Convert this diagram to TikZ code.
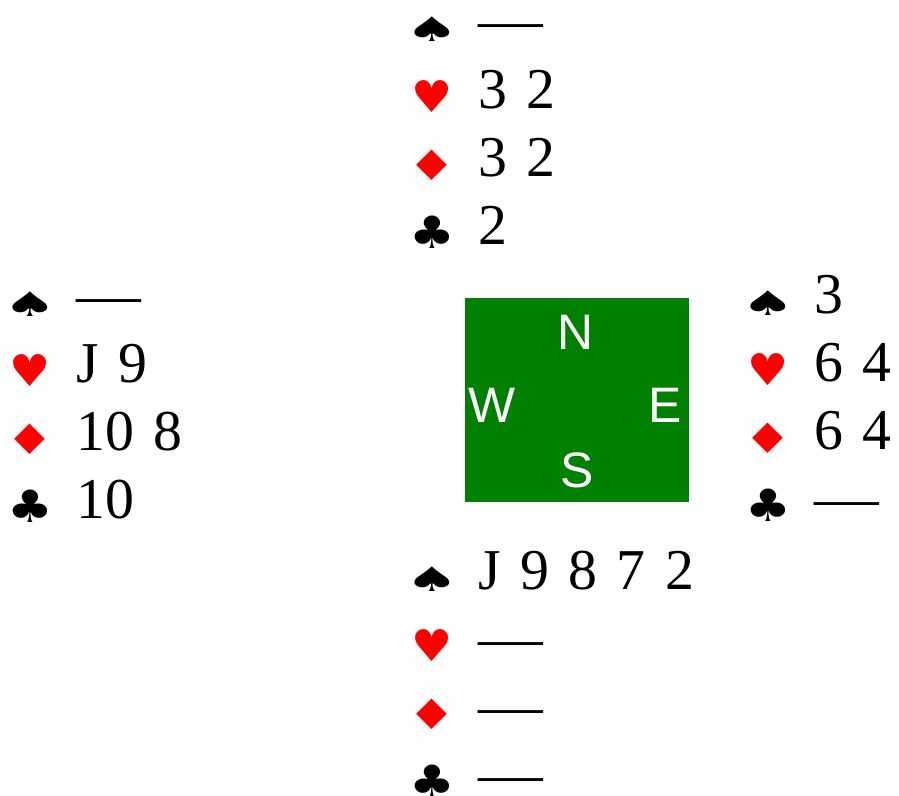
\documentclass[tikz,border=0pt]{standalone}
\usepackage{fontspec}
\setmainfont[WordSpace=1.35]{Liberation Serif}
\setsansfont{Liberation Sans}
\newfontfamily\suitfont{DejaVu Sans}
\usetikzlibrary{positioning}

\definecolor{feltgreen}{RGB}{0,128,0}
\definecolor{suitred}{RGB}{255,0,0}

\newcommand\suitS{\raisebox{-2bp}{\scalebox{1.5}[0.85]{\suitfont\color{black}♠}}}
\newcommand\suitH{\raisebox{-4bp}{\scalebox{1.15}[1.1]{\suitfont\color{suitred}♥}}}
\newcommand\suitD{\raisebox{-4bp}{\scalebox{1.37}[1.05]{\suitfont\color{suitred}♦}}}
\newcommand\suitC{\raisebox{-4bp}{\scalebox{1.28}[1.12]{\suitfont\color{black}♣}}}
\newcommand\void{\scalebox{1.12}[1]{\textemdash}}
\newcommand\holding[2]{\makebox[32bp]{\fontsize{40}{40}\selectfont #1}\hspace{30bp}#2}

\begin{document}
\begin{tikzpicture}[x=1bp, y=-1bp,
  hand/.style={anchor=west, inner sep=0pt, text height=36bp, text depth=2bp, font=\fontsize{58}{60}\selectfont},
  compass/.style={text=white, inner sep=0pt, font=\sffamily\fontsize{50}{50}\selectfont}]
  \useasboundingbox (0,0) rectangle (899,796);

  % Table
  \node (T) [fill=feltgreen, inner sep=0pt, minimum width=224bp, minimum height=204bp] at (577,400) {};
  \node (tN) [compass] at (575,332) {N};
  \node (tW) [compass] at (492,405) {W};
  \node (tE) [compass] at (665,405) {E};
  \node (tS) [compass] at (577,470) {S};

  % North
  \node (NS) [hand] at (416,23) {\holding{\suitS}{\void}};
  \node (NH) [hand, below=29.7bp of NS.south west, anchor=north west] {\holding{\suitH}{3 2}};
  \node (ND) [hand, below=29.7bp of NH.south west, anchor=north west] {\holding{\suitD}{3 2}};
  \node (NC) [hand, below=29.7bp of ND.south west, anchor=north west] {\holding{\suitC}{2}};

  % West
  \node (WS) [hand] at (14,297) {\holding{\suitS}{\void}};
  \node (WH) [hand, below=29.7bp of WS.south west, anchor=north west] {\holding{\suitH}{J 9}};
  \node (WD) [hand, below=29.7bp of WH.south west, anchor=north west] {\holding{\suitD}{10 8}};
  \node (WC) [hand, below=29.7bp of WD.south west, anchor=north west] {\holding{\suitC}{10}};

  % East
  \node (ES) [hand] at (752,296) {\holding{\suitS}{3}};
  \node (EH) [hand, below=29.7bp of ES.south west, anchor=north west] {\holding{\suitH}{6 4}};
  \node (ED) [hand, below=29.7bp of EH.south west, anchor=north west] {\holding{\suitD}{6 4}};
  \node (EC) [hand, below=29.7bp of ED.south west, anchor=north west] {\holding{\suitC}{\void}};

  % South
  \node (SS) [hand] at (416,572) {\holding{\suitS}{J 9 8 7 2}};
  \node (SH) [hand, below=29.7bp of SS.south west, anchor=north west] {\holding{\suitH}{\void}};
  \node (SD) [hand, below=29.7bp of SH.south west, anchor=north west] {\holding{\suitD}{\void}};
  \node (SC) [hand, below=29.7bp of SD.south west, anchor=north west] {\holding{\suitC}{\void}};

\end{tikzpicture}
\end{document}
